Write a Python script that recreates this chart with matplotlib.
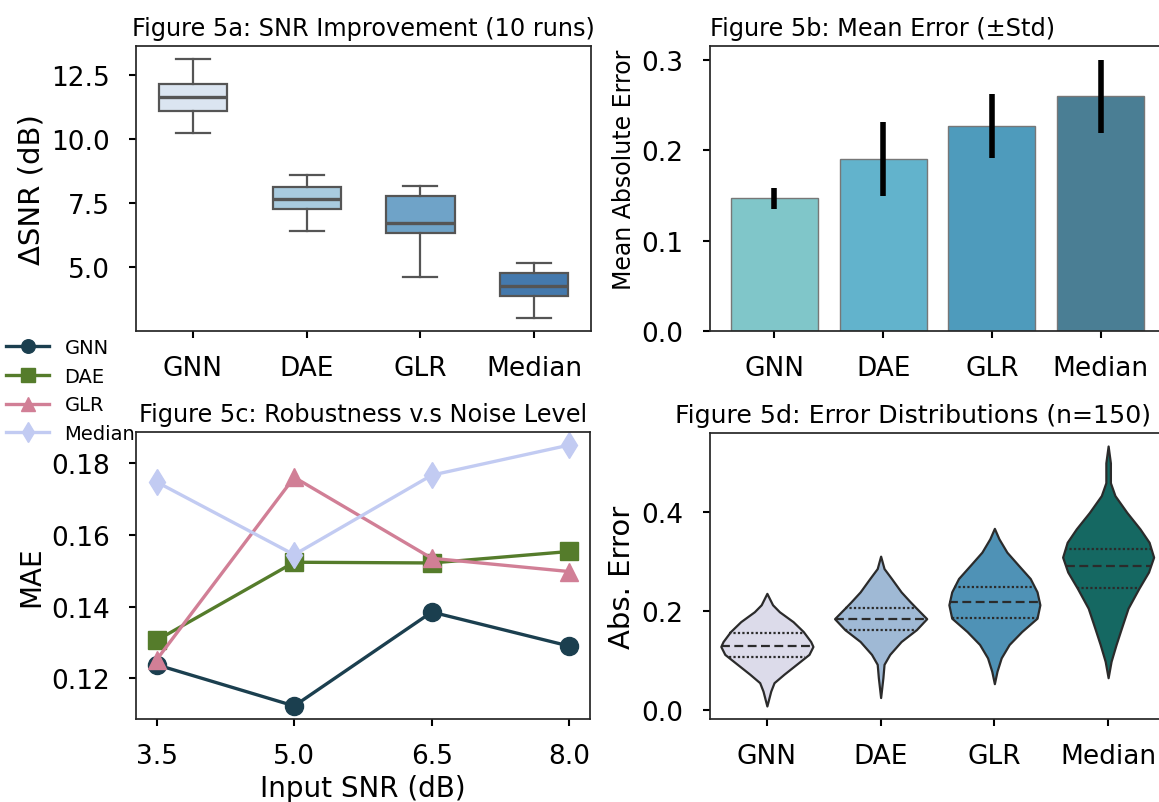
import numpy as np
import matplotlib
matplotlib.use("Agg")
import matplotlib.pyplot as plt

methods = ["GNN", "DAE", "GLR", "Median"]

# Figure 5a: box stats of SNR improvement (dB)
snr_whislo = [10.21, 6.42, 4.62, 3.03]
snr_q1 = [11.10, 7.29, 6.35, 3.87]
snr_med = [11.62, 7.66, 6.74, 4.29]
snr_q3 = [12.12, 8.13, 7.76, 4.79]
snr_whishi = [13.11, 8.59, 8.16, 5.16]

# Figure 5b: mean absolute error and std
mae_mean = [0.147, 0.1905, 0.227, 0.260]
mae_std = [0.0117, 0.041, 0.0355, 0.0405]

# Figure 5c: MAE vs input SNR
input_snr = [3.5, 5.0, 6.5, 8.0]
mae_gnn = [0.1238, 0.1123, 0.1385, 0.1290]
mae_dae = [0.1306, 0.1524, 0.1522, 0.1554]
mae_glr = [0.1252, 0.1761, 0.1535, 0.1498]
mae_median = [0.1748, 0.1545, 0.1767, 0.1851]

# Figure 5d: violin outlines (abs error level, half width)
gnn_level = [0.009, 0.039, 0.056, 0.073, 0.093, 0.113, 0.129, 0.139, 0.159, 0.179, 0.199, 0.213, 0.236]
gnn_half = [0.0, 0.034, 0.063, 0.15, 0.26, 0.37, 0.405, 0.385, 0.32, 0.23, 0.11, 0.05, 0.0]
dae_level = [0.026, 0.066, 0.093, 0.113, 0.139, 0.163, 0.185, 0.206, 0.219, 0.239, 0.266, 0.286, 0.311]
dae_half = [0.0, 0.02, 0.03, 0.08, 0.18, 0.315, 0.405, 0.315, 0.26, 0.18, 0.095, 0.03, 0.0]
glr_level = [0.054, 0.079, 0.106, 0.133, 0.159, 0.186, 0.213, 0.239, 0.266, 0.293, 0.319, 0.346, 0.367]
glr_half = [0.0, 0.023, 0.06, 0.13, 0.24, 0.375, 0.40, 0.375, 0.315, 0.21, 0.11, 0.04, 0.0]
median_level = [0.066, 0.099, 0.133, 0.166, 0.206, 0.246, 0.279, 0.309, 0.339, 0.366, 0.399, 0.433, 0.459, 0.499, 0.533]
median_half = [0.0, 0.026, 0.07, 0.117, 0.175, 0.27, 0.355, 0.40, 0.36, 0.28, 0.165, 0.06, 0.02, 0.02, 0.0]
# quartiles (q1, median, q3)
violin_quart = [[0.107, 0.129, 0.156],
                [0.162, 0.185, 0.206],
                [0.186, 0.218, 0.249],
                [0.246, 0.291, 0.326]]

box_colors = ["#dbe5f1", "#a9cbdf", "#6fa3c8", "#4479ad"]
bar_colors = ["#80c6c9", "#62b3cc", "#4e9bbc", "#4a7e94"]
line_colors = ["#1b3f4f", "#557c2b", "#d17f96", "#c2cbf2"]
violin_colors = ["#dcdbea", "#9fb9d5", "#4f92b6", "#156862"]

plt.rcParams["axes.edgecolor"] = "#262626"
plt.rcParams["axes.linewidth"] = 1.25
plt.rcParams["xtick.major.width"] = 1.5
plt.rcParams["ytick.major.width"] = 1.5
plt.rcParams["xtick.major.size"] = 5
plt.rcParams["ytick.major.size"] = 5
plt.rcParams["xtick.labelsize"] = 19
plt.rcParams["ytick.labelsize"] = 19
plt.rcParams["xtick.major.pad"] = 12
plt.rcParams["ytick.major.pad"] = 14
plt.rcParams["axes.titlepad"] = 8

W, H = 1159, 803
fig = plt.figure(figsize=(W / 100, H / 100), dpi=100)

def add_ax(l, r, t, b):
    return fig.add_axes([l / W, 1 - b / H, (r - l) / W, (b - t) / H])

ax_a = add_ax(136, 591, 47, 332)
ax_b = add_ax(710, 1165, 47, 332)
ax_c = add_ax(136, 590, 433, 720)
ax_d = add_ax(710, 1165, 434, 720)

title_fs = 17.3

# --- 5a boxplot
stats = []
for i in range(4):
    stats.append(dict(med=snr_med[i], q1=snr_q1[i], q3=snr_q3[i],
                      whislo=snr_whislo[i], whishi=snr_whishi[i], fliers=[]))
bp = ax_a.bxp(stats, positions=range(4), widths=0.6, patch_artist=True,
              boxprops=dict(edgecolor="#555555", linewidth=1.6),
              medianprops=dict(color="#555555", linewidth=2.4),
              whiskerprops=dict(color="#555555", linewidth=1.6),
              capprops=dict(color="#555555", linewidth=1.6))
for patch, c in zip(bp["boxes"], box_colors):
    patch.set_facecolor(c)
ax_a.set_xticks(range(4), methods)
ax_a.set_xlim(-0.5, 3.5)
ax_a.set_yticks([5.0, 7.5, 10.0, 12.5])
ax_a.set_ylabel("ΔSNR (dB)", fontsize=21)
ax_a.set_title("Figure 5a: SNR Improvement (10 runs)", fontsize=title_fs)

# --- 5b bars
ax_b.bar(range(4), mae_mean, width=0.8, color=bar_colors, edgecolor="#777777", linewidth=1)
ax_b.errorbar(range(4), mae_mean, yerr=mae_std, fmt="none", ecolor="black", elinewidth=4, capsize=0)
ax_b.set_xticks(range(4), methods)
ax_b.set_yticks([0.0, 0.1, 0.2, 0.3])
ax_b.set_ylabel("Mean Absolute Error", fontsize=17)
ax_b.yaxis.label.set_y(0.57)
ax_b.set_title("Figure 5b: Mean Error (±Std)", fontsize=title_fs, x=0.38)

# --- 5c lines
series = [mae_gnn, mae_dae, mae_glr, mae_median]
markers = ["o", "s", "^", "d"]
for vals, name, c, m in zip(series, methods, line_colors, markers):
    ax_c.plot(input_snr, vals, color=c, marker=m, markersize=13, linewidth=2.4, label=name)
ax_c.set_xticks(input_snr)
ax_c.set_yticks([0.12, 0.14, 0.16, 0.18])
ax_c.set_xlabel("Input SNR (dB)", fontsize=20, labelpad=4)
ax_c.set_ylabel("MAE", fontsize=20)
ax_c.set_title("Figure 5c: Robustness v.s Noise Level", fontsize=title_fs)
fig.legend(loc="upper left", bbox_to_anchor=(0.002, 1 - 335 / H), frameon=False,
           fontsize=14, handlelength=2.2, handletextpad=0.8, labelspacing=0.5,
           borderaxespad=0, borderpad=0.2, markerscale=0.75)

# --- 5d violins
levels = [gnn_level, dae_level, glr_level, median_level]
halves = [gnn_half, dae_half, glr_half, median_half]
for i in range(4):
    y = np.array(levels[i])
    w = np.array(halves[i])
    ax_d.fill_betweenx(y, i - w, i + w, facecolor=violin_colors[i], edgecolor="#2b2b2b", linewidth=1.6)
    for j, q in enumerate(violin_quart[i]):
        hw = np.interp(q, y, w)
        ls = (0, (4, 2)) if j == 1 else (0, (1, 1))
        ax_d.plot([i - hw, i + hw], [q, q], color="#2b2b2b", linestyle=ls, linewidth=1.6)
ax_d.set_xticks(range(4), methods)
ax_d.set_xlim(-0.5, 3.5)
ax_d.set_yticks([0.0, 0.2, 0.4])
ax_d.set_ylabel("Abs. Error", fontsize=21)
ax_d.set_title("Figure 5d: Error Distributions (n=150)", fontsize=18.2, x=0.446)

fig.savefig("out.png", dpi=100)
